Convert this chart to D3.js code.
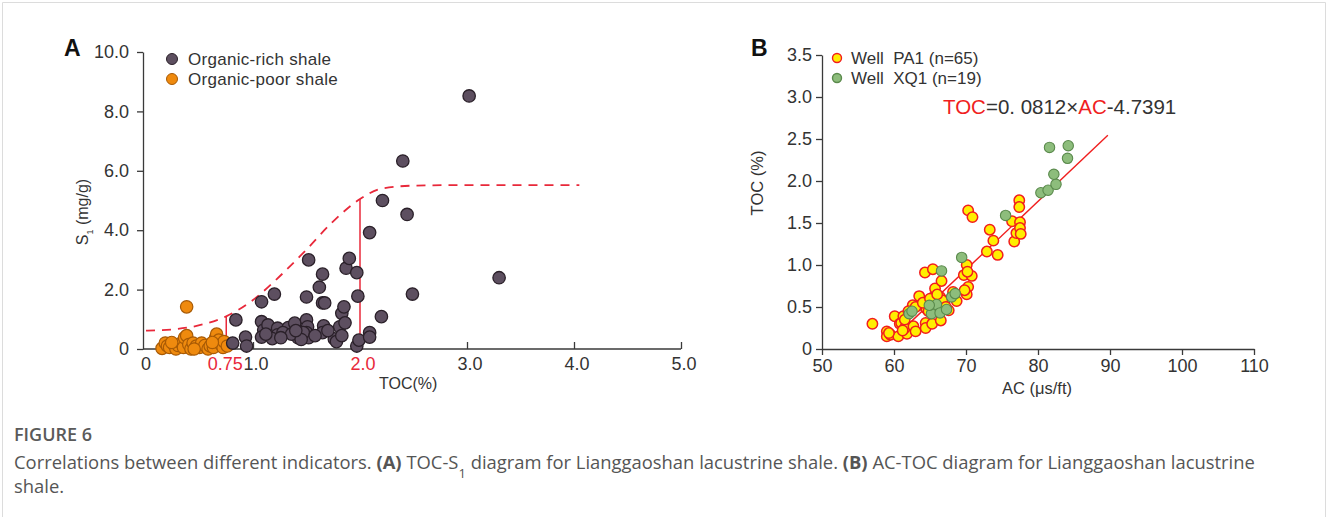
<!DOCTYPE html>
<html>
<head>
<meta charset="utf-8">
<script src="https://cdn.jsdelivr.net/npm/d3@7"></script>
<style>
  body { margin: 0; background: #fff; }
  svg { display: block; font-family: "Liberation Sans", Arial, sans-serif; }
</style>
</head>
<body>
<div id="chart"></div>
<script>
// Panel A: TOC (%) vs S1 (mg/g)
const richShale = [
  [0.84, 0.98], [0.81, 0.2], [0.93, 0.4], [0.94, 0.1], [1.08, 1.59], [1.2, 1.85],
  [1.08, 0.92], [1.1, 0.64], [1.08, 0.4], [1.14, 0.81], [1.23, 0.7], [1.23, 0.48],
  [1.33, 0.72], [1.39, 0.87], [1.42, 0.38], [1.5, 1.75], [1.52, 3.0], [1.5, 0.98],
  [1.51, 0.75], [1.5, 0.55], [1.52, 0.38], [1.47, 0.55], [1.62, 2.08], [1.65, 2.52],
  [1.65, 1.55], [1.67, 1.55], [1.66, 0.78], [1.65, 0.55], [1.76, 0.34], [1.78, 0.25],
  [1.81, 0.75], [1.83, 1.2], [1.85, 1.42], [1.87, 2.72], [1.9, 3.05], [1.86, 0.88],
  [1.83, 0.45], [1.97, 2.57], [1.98, 1.78], [1.97, 0.1], [1.99, 0.3], [2.09, 3.92],
  [2.09, 0.55], [2.09, 0.4], [2.2, 1.09], [2.21, 5.0], [2.44, 4.53], [2.49, 1.85],
  [3.3, 2.4], [3.02, 8.52], [2.4, 6.33], [1.18, 0.35], [1.28, 0.55], [1.36, 0.5],
  [1.45, 0.32], [1.58, 0.45], [1.7, 0.62], [1.26, 0.38], [1.12, 0.5], [1.4, 0.62]
];
const poorShale = [
  [0.15, 0.02], [0.18, 0.2], [0.2, 0.1], [0.22, 0.05], [0.26, 0.15], [0.28, 0.0],
  [0.3, 0.12], [0.33, 0.2], [0.35, 0.05], [0.36, 0.38], [0.38, 0.45], [0.38, 1.42],
  [0.4, 0.15], [0.42, 0.0], [0.44, 0.2], [0.47, 0.1], [0.5, 0.05], [0.52, 0.2],
  [0.55, 0.12], [0.58, 0.0], [0.6, 0.1], [0.63, 0.05], [0.65, 0.38], [0.66, 0.5],
  [0.68, 0.3], [0.7, 0.15], [0.72, 0.05], [0.73, 0.25], [0.76, 0.1], [0.62, 0.22],
  [0.24, 0.22], [0.45, 0.0]
];
// dashed boundary curve
const boundaryCurve = [
  [0, 0.62], [0.25, 0.66], [0.5, 0.8], [0.75, 1.1], [1.0, 1.65], [1.25, 2.45],
  [1.5, 3.35], [1.75, 4.3], [2.0, 5.05], [2.2, 5.4], [2.5, 5.5], [3.0, 5.52], [4.05, 5.52]
];
const cutoffLines = [[0.75, 1.1], [2.0, 5.05]];
const xTicksA = [0, 0.75, 1, 2, 3, 4, 5];
const xTickRedA = [0.75, 2];
const yTicksA = [0, 2, 4, 6, 8, 10];

// Panel B: AC (us/ft) vs TOC (%)
const wellPA1 = [
  [57.0, 0.30], [59.0, 0.21], [59.0, 0.15], [59.5, 0.17], [60.1, 0.39], [60.6, 0.15],
  [60.8, 0.30], [61.0, 0.31], [61.3, 0.39], [61.8, 0.18], [61.5, 0.25], [62.7, 0.27],
  [63.0, 0.21], [62.6, 0.52], [63.5, 0.63], [64.0, 0.52], [64.3, 0.91], [64.4, 0.31],
  [64.4, 0.25], [64.5, 0.48], [65.3, 0.30], [65.4, 0.95], [65.5, 0.62], [65.7, 0.72],
  [66.0, 0.55], [66.4, 0.62], [66.5, 0.34], [66.6, 0.81], [67.0, 0.57], [67.6, 0.46],
  [68.7, 0.57], [69.7, 0.88], [70.1, 1.0], [70.0, 0.71], [70.3, 0.74], [70.1, 0.65],
  [70.8, 0.87], [70.3, 1.65], [70.9, 1.57], [72.9, 1.16], [73.3, 1.42], [73.8, 1.29],
  [74.4, 1.12], [76.4, 1.52], [76.7, 1.28], [77.0, 1.38], [77.5, 1.51], [77.5, 1.44],
  [77.6, 1.37], [77.4, 1.77], [77.4, 1.69], [61.5, 0.35], [63.0, 0.50], [64.0, 0.55],
  [65.0, 0.60], [66.7, 0.58], [67.2, 0.50], [61.2, 0.22], [68.2, 0.68], [70.2, 0.92],
  [69.8, 0.70], [59.3, 0.19], [62.0, 0.45], [66.0, 0.65], [64.8, 0.45]
];
const wellXQ1 = [
  [62.1, 0.42], [62.5, 0.45], [65.2, 0.42], [65.9, 0.53], [66.4, 0.43], [66.6, 0.93],
  [67.3, 0.47], [68.0, 0.62], [68.5, 0.66], [69.4, 1.09], [75.5, 1.59], [80.4, 1.86],
  [81.4, 1.89], [82.5, 1.96], [82.2, 2.08], [81.6, 2.40], [84.2, 2.42], [84.1, 2.27],
  [64.9, 0.52]
];
// fitted line TOC = 0.0812 * AC - 4.7391
const fitSlope = 0.0812;
const fitIntercept = -4.7391;
const fitRange = [60.8, 89.7];
const xTicksB = [50, 60, 70, 80, 90, 100, 110];
const yTicksB = [0, 0.5, 1, 1.5, 2, 2.5, 3, 3.5];

const W = 1328, H = 517;
const axisColor = '#3a3a3a';
const textColor = '#333';
const red = '#e8283a';

const svg = d3.select('#chart').append('svg')
  .attr('width', W).attr('height', H);

// thin frame round the figure
svg.append('path')
  .attr('d', `M2.5,${H} V2.5 H${W - 2.5} V${H}`)
  .attr('fill', 'none').attr('stroke', '#dcdcdc');

function styleAxis(g) {
  g.select('.domain').attr('stroke', axisColor).attr('stroke-width', 1.3);
  g.selectAll('.tick line').attr('stroke', axisColor).attr('stroke-width', 1.3);
  g.selectAll('.tick text').attr('fill', textColor)
    .style('font-size', '18px').style('font-family', '"Liberation Sans", Arial, sans-serif');
}

// ---------- Panel A ----------
const xA = d3.scaleLinear().domain([0, 5]).range([146, 681]);
const yA = d3.scaleLinear().domain([0, 10]).range([349, 52]);

const gA = svg.append('g');

// x axis (ticks point inward)
const xAxA = gA.append('g').attr('transform', `translate(0,${yA(0)})`)
  .call(d3.axisTop(xA).tickValues(xTicksA.filter(d => d >= 1)).tickSizeOuter(0).tickFormat(''));
xAxA.select('.domain').attr('d', `M143,0H${xA(5)}`);
styleAxis(xAxA);
xAxA.selectAll('.tick line').attr('y2', -7);
gA.selectAll('.xlabA').data(xTicksA).join('text')
  .attr('x', d => d === 0 ? xA(d) : (d === 0.75 ? xA(d) - 1 : xA(d) + 3))
  .attr('y', yA(0) + 21)
  .attr('text-anchor', 'middle')
  .attr('fill', d => xTickRedA.includes(d) ? red : textColor)
  .style('font-size', '18px')
  .text(d => d === 0 ? '0' : (d === 0.75 ? '0.75' : d.toFixed(1)));

// y axis
const yAxA = gA.append('g').attr('transform', 'translate(143,0)')
  .call(d3.axisLeft(yA).tickValues(yTicksA).tickSize(6).tickSizeOuter(0)
    .tickFormat(d => d === 0 ? '0' : d.toFixed(1)));
styleAxis(yAxA);
yAxA.selectAll('.tick text').attr('x', -14);

// axis titles
gA.append('text').attr('x', xA(2.45)).attr('y', 389)
  .attr('text-anchor', 'middle').attr('fill', textColor).style('font-size', '16px')
  .text('TOC(%)');
const yTitleA = gA.append('text')
  .attr('transform', `translate(88,212) rotate(-90)`)
  .attr('text-anchor', 'middle').attr('fill', textColor).style('font-size', '16px');
yTitleA.append('tspan').text('S');
yTitleA.append('tspan').attr('baseline-shift', 'sub').style('font-size', '9px').text('1');
yTitleA.append('tspan').text(' (mg/g)');

// boundary curve
gA.append('path').datum(boundaryCurve)
  .attr('fill', 'none').attr('stroke', red).attr('stroke-width', 1.8)
  .attr('stroke-dasharray', '9,7')
  .attr('d', d3.line().x(d => xA(d[0])).y(d => yA(d[1])).curve(d3.curveMonotoneX));

// cutoff lines
gA.selectAll('.cut').data(cutoffLines).join('line')
  .attr('x1', d => xA(d[0])).attr('x2', d => xA(d[0]))
  .attr('y1', yA(0)).attr('y2', d => yA(d[1]))
  .attr('stroke', red).attr('stroke-width', 1.5);

// points
gA.selectAll('.poor').data(poorShale).join('circle')
  .attr('cx', d => xA(d[0])).attr('cy', d => yA(d[1])).attr('r', 6.2)
  .attr('fill', '#ef8a0e').attr('stroke', '#a85a05').attr('stroke-width', 1.2);
gA.selectAll('.rich').data(richShale).join('circle')
  .attr('cx', d => xA(d[0])).attr('cy', d => yA(d[1])).attr('r', 6.2)
  .attr('fill', '#5d4f60').attr('stroke', '#2a2029').attr('stroke-width', 1.3);

// legend
const legA = [['Organic-rich shale', '#5d4f60', '#2a2029'], ['Organic-poor shale', '#ef8a0e', '#a85a05']];
legA.forEach((l, i) => {
  gA.append('circle').attr('cx', 172).attr('cy', 59 + i * 20).attr('r', 5.5)
    .attr('fill', l[1]).attr('stroke', l[2]).attr('stroke-width', 1);
  gA.append('text').attr('x', 188).attr('y', 65 + i * 20)
    .attr('fill', textColor).style('font-size', '17px').style('letter-spacing', '0.3px').text(l[0]);
});

gA.append('text').attr('x', 64).attr('y', 56)
  .style('font-size', '23px').style('font-weight', 'bold').attr('fill', '#111').text('A');

// ---------- Panel B ----------
const xB = d3.scaleLinear().domain([50, 110]).range([822, 1254]);
const yB = d3.scaleLinear().domain([0, 3.5]).range([349, 55]);
const gB = svg.append('g');

const xAxB = gB.append('g').attr('transform', `translate(0,${yB(0)})`)
  .call(d3.axisBottom(xB).tickValues(xTicksB).tickSize(6).tickSizeOuter(0).tickFormat(d3.format('d')));
styleAxis(xAxB);
xAxB.selectAll('.tick text').attr('y', 10);

const yAxB = gB.append('g').attr('transform', `translate(${xB(50)},0)`)
  .call(d3.axisLeft(yB).tickValues(yTicksB).tickSize(6).tickSizeOuter(0)
    .tickFormat(d => d === 0 ? '0' : d.toFixed(1)));
styleAxis(yAxB);
yAxB.selectAll('.tick text').attr('x', -10);

gB.append('text').attr('x', 1037).attr('y', 394)
  .attr('text-anchor', 'middle').attr('fill', textColor).style('font-size', '16.5px')
  .text('AC (μs/ft)');
gB.append('text').attr('transform', 'translate(763,183) rotate(-90)')
  .attr('text-anchor', 'middle').attr('fill', textColor).style('font-size', '16.5px')
  .text('TOC (%)');

// fitted line
gB.append('line')
  .attr('x1', xB(fitRange[0])).attr('y1', yB(fitSlope * fitRange[0] + fitIntercept))
  .attr('x2', xB(fitRange[1])).attr('y2', yB(fitSlope * fitRange[1] + fitIntercept))
  .attr('stroke', '#f01e1e').attr('stroke-width', 1.4);

gB.selectAll('.pa').data(wellPA1).join('circle')
  .attr('cx', d => xB(d[0])).attr('cy', d => yB(d[1])).attr('r', 5.2)
  .attr('fill', '#ffee00').attr('stroke', '#f21d1d').attr('stroke-width', 1.5);
gB.selectAll('.xq').data(wellXQ1).join('circle')
  .attr('cx', d => xB(d[0])).attr('cy', d => yB(d[1])).attr('r', 5.2)
  .attr('fill', '#8dbd7c').attr('stroke', '#5a8a4c').attr('stroke-width', 1.1);

const legB = [['Well  PA1 (n=65)', '#ffee00', '#f21d1d'], ['Well  XQ1 (n=19)', '#8dbd7c', '#5a8a4c']];
legB.forEach((l, i) => {
  gB.append('circle').attr('cx', 837).attr('cy', 58 + i * 20).attr('r', 4.5)
    .attr('fill', l[1]).attr('stroke', l[2]).attr('stroke-width', 1.4);
  gB.append('text').attr('x', 851).attr('y', 64 + i * 20)
    .attr('fill', textColor).style('font-size', '17px').style('white-space', 'pre')
    .attr('xml:space', 'preserve').text(l[0]);
});

const eq = gB.append('text').attr('x', 943).attr('y', 114)
  .attr('fill', textColor).style('font-size', '20.5px');
eq.append('tspan').attr('fill', '#f01e1e').text('TOC');
eq.append('tspan').text('=0. 0812×');
eq.append('tspan').attr('fill', '#f01e1e').text('AC');
eq.append('tspan').text('-4.7391');

gB.append('text').attr('x', 751).attr('y', 56)
  .style('font-size', '23px').style('font-weight', 'bold').attr('fill', '#111').text('B');

// ---------- Caption ----------
const cap = svg.append('g').style('font-family', '"Open Sans", "Noto Sans", sans-serif').attr('fill', '#555');
cap.append('text').attr('x', 14).attr('y', 441).style('font-size', '18px')
  .style('font-weight', '600').attr('fill', '#5a5a5a').text('FIGURE 6');
const line1 = cap.append('text').attr('x', 14).attr('y', 469).style('font-size', '18.4px');
line1.append('tspan').text('Correlations between different indicators. ');
line1.append('tspan').style('font-weight', 'bold').text('(A)');
line1.append('tspan').text(' TOC-S');
line1.append('tspan').attr('baseline-shift', 'sub').style('font-size', '13px').text('1');
line1.append('tspan').text(' diagram for Lianggaoshan lacustrine shale. ');
line1.append('tspan').style('font-weight', 'bold').text('(B)');
line1.append('tspan').text(' AC-TOC diagram for Lianggaoshan lacustrine');
cap.append('text').attr('x', 14).attr('y', 493).style('font-size', '18.4px').text('shale.');
</script>
</body>
</html>
